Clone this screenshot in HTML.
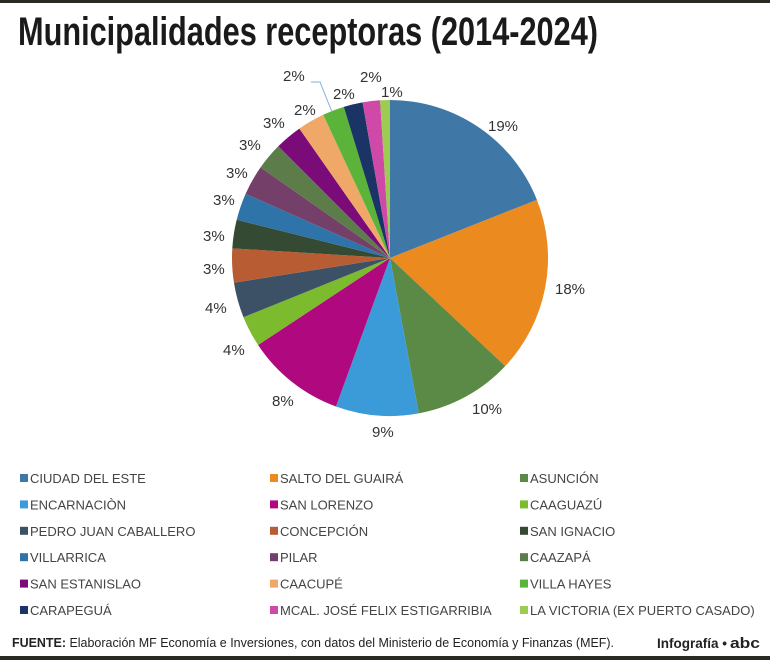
<!DOCTYPE html>
<html><head><meta charset="utf-8"><style>
body{margin:0;background:#fff;}
svg{display:block;font-family:"Liberation Sans",sans-serif;}
</style></head><body>
<svg id="s" width="770" height="660" viewBox="0 0 770 660" xmlns="http://www.w3.org/2000/svg">
<rect x="0" y="0" width="770" height="3" fill="#2a2a22"/>
<text x="18" y="45" font-size="40" font-weight="bold" fill="#1a1a1a" textLength="580" lengthAdjust="spacingAndGlyphs">Municipalidades receptoras (2014-2024)</text>
<g id="pie"></g>
<g font-size="15" fill="#333">
<text x="488" y="131">19%</text>
<text x="555" y="294">18%</text>
<text x="472" y="414">10%</text>
<text x="372" y="437">9%</text>
<text x="272" y="406">8%</text>
<text x="223" y="355">4%</text>
<text x="205" y="313">4%</text>
<text x="203" y="274">3%</text>
<text x="203" y="241">3%</text>
<text x="213" y="205">3%</text>
<text x="226" y="178">3%</text>
<text x="239" y="150">3%</text>
<text x="263" y="128">3%</text>
<text x="294" y="115">2%</text>
<text x="333" y="99">2%</text>
<text x="283" y="81">2%</text>
<text x="360" y="82">2%</text>
<text x="381" y="97">1%</text>
</g>
<polyline points="311,82 320,82 332,112" fill="none" stroke="#7fb3d9" stroke-width="1"/>
<g id="leg" font-size="13" fill="#444"></g>
<text x="12" y="647" font-size="13" fill="#222" textLength="602" lengthAdjust="spacingAndGlyphs"><tspan font-weight="bold">FUENTE:</tspan> Elaboración MF Economía e Inversiones, con datos del Ministerio de Economía y Finanzas (MEF).</text>
<text x="657" y="648" font-size="14" font-weight="bold" fill="#222" textLength="70" lengthAdjust="spacingAndGlyphs">Infografía •</text>
<text x="730" y="648" font-size="15" font-weight="bold" fill="#222" textLength="30" lengthAdjust="spacingAndGlyphs">abc</text>
<rect x="0" y="656" width="770" height="4" fill="#2a2a22"/>
</svg>
<script>
var data=[
["CIUDAD DEL ESTE","#3f77a6",68.4],
["SALTO DEL GUAIRÁ","#ea8a1f",133.2],
["ASUNCIÓN","#5a8a45",169.5],
["ENCARNACIÒN","#3a9bd8",200],
["SAN LORENZO","#b0087f",236.6],
["CAAGUAZÚ","#7cba2e",248],
["PEDRO JUAN CABALLERO","#3c5166",261],
["CONCEPCIÓN","#b85c33",273.5],
["SAN IGNACIO","#344a32",284],
["VILLARRICA","#2f74a8",294],
["PILAR","#74406a",305],
["CAAZAPÁ","#5c7d4a",315],
["SAN ESTANISLAO","#7a0b78",325],
["CAACUPÉ","#f0a868",335],
["VILLA HAYES","#5cb33a",343],
["CARAPEGUÁ","#1a3565",350],
["MCAL. JOSÉ FELIX ESTIGARRIBIA","#cf4aa8",356.4],
["LA VICTORIA (EX PUERTO CASADO)","#9ccc52",360]];
var cx=390,cy=258,r=158,ns="http://www.w3.org/2000/svg",a0=0,pie=document.getElementById("pie"),leg=document.getElementById("leg");
function pt(a){a=a*Math.PI/180;return (cx+r*Math.sin(a)).toFixed(2)+","+(cy-r*Math.cos(a)).toFixed(2);}
data.forEach(function(d,i){
var p=document.createElementNS(ns,"path");
p.setAttribute("d","M"+cx+","+cy+" L"+pt(a0)+" A"+r+","+r+" 0 "+((d[2]-a0)>180?1:0)+" 1 "+pt(d[2])+" Z");
p.setAttribute("fill",d[1]);pie.appendChild(p);a0=d[2];
var col=i%3,row=Math.floor(i/3),x=[20,270,520][col],y=478+row*26.4;
var s=document.createElementNS(ns,"rect");s.setAttribute("x",x);s.setAttribute("y",y-4);s.setAttribute("width",8);s.setAttribute("height",8);s.setAttribute("fill",d[1]);leg.appendChild(s);
var t=document.createElementNS(ns,"text");t.setAttribute("x",x+10);t.setAttribute("y",y+5);t.textContent=d[0];leg.appendChild(t);
});
</script>
</body></html>
